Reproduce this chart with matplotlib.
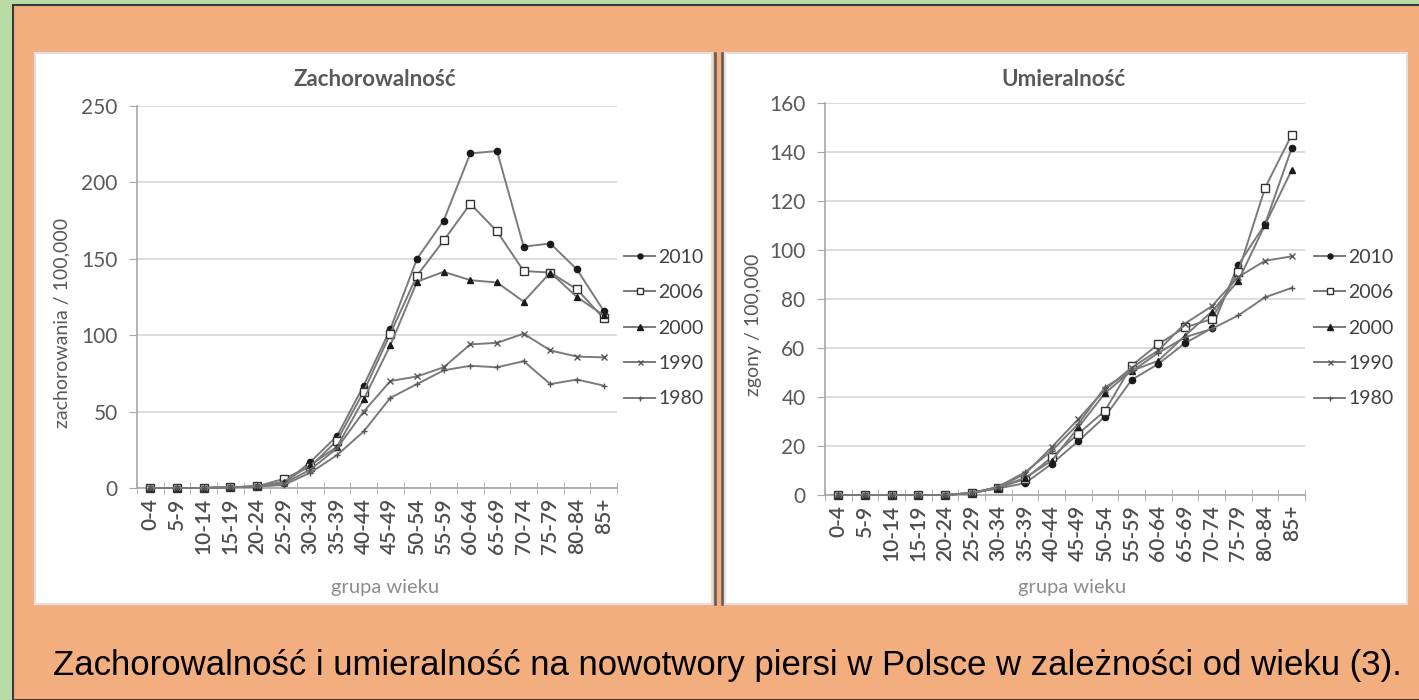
import matplotlib
matplotlib.use("Agg")
import matplotlib.pyplot as plt
from matplotlib.patches import Rectangle
from matplotlib.lines import Line2D

plt.rcParams['font.family'] = ['Lato', 'DejaVu Sans']

age_groups = ['0-4', '5-9', '10-14', '15-19', '20-24', '25-29', '30-34', '35-39', '40-44',
              '45-49', '50-54', '55-59', '60-64', '65-69', '70-74', '75-79', '80-84', '85+']
years = ['2010', '2006', '2000', '1990', '1980']

# zachorowalnosc / 100 000
inc_2010 = [0, 0, 0, 0.5, 1, 3, 17, 34, 67, 104, 150, 175, 219, 220.5, 158, 160, 143, 116]
inc_2006 = [0, 0, 0, 0.5, 1, 6, 14, 31, 63, 101, 139, 162, 186, 168, 142, 141, 130, 111]
inc_2000 = [0, 0, 0, 0.5, 1, 4, 15, 27, 58, 93.5, 135, 141.5, 136, 134.5, 122, 141, 125, 113]
inc_1990 = [0, 0, 0, 0.5, 1, 3, 12, 26, 50, 70, 73, 79, 94, 95, 101, 90, 86, 85.5]
inc_1980 = [0, 0, 0, 0.5, 1, 2, 10, 21.5, 37, 59, 68, 77, 80, 79, 83, 68, 71, 67]

# umieralnosc / 100 000
mort_2010 = [0, 0, 0, 0, 0, 0.8, 2.7, 4.8, 12.7, 22, 32, 47, 53.5, 62, 68, 94, 110.5, 141.5]
mort_2006 = [0, 0, 0, 0, 0, 0.8, 3, 6.5, 15.4, 25, 34.4, 52.8, 61.6, 68.4, 71.8, 91, 125.3, 147]
mort_2000 = [0, 0, 0, 0, 0, 0.8, 3, 7, 14, 27.6, 41.6, 50.7, 54.8, 65, 74.8, 87.5, 110.2, 132.6]
mort_1990 = [0, 0, 0, 0, 0, 0.8, 3.2, 8.6, 19.5, 31, 43, 52, 59, 70, 77, 89, 95.6, 97.4]
mort_1980 = [0, 0, 0, 0, 0, 0.8, 3.4, 9.3, 18, 29, 44, 50.5, 58, 64.4, 67.8, 73.3, 80.7, 84.5]

W, H = 1419, 700
GRAY_TXT = '#595959'
GRID = '#d9d9d9'
AX_LINE = '#a6a6a6'
LINE_COL = '#7a7a7a'
MARK_COL = '#1a1a1a'

markers = [
    dict(marker='o', markersize=4.5, markerfacecolor=MARK_COL, markeredgecolor=MARK_COL),
    dict(marker='s', markersize=5.5, markerfacecolor='white', markeredgecolor='#333333', markeredgewidth=1.0),
    dict(marker='^', markersize=5, markerfacecolor=MARK_COL, markeredgecolor=MARK_COL),
    dict(marker='x', markersize=4.5, markeredgecolor='#555555', markeredgewidth=1.0),
    dict(marker='+', markersize=4.5, markeredgecolor='#555555', markeredgewidth=1.0),
]


def px_rect(x0, y0, x1, y1):
    # pixel box (top-left origin) -> figure fraction [l, b, w, h]
    return [x0 / W, 1 - y1 / H, (x1 - x0) / W, (y1 - y0) / H]


def draw_chart(fig, box, series, ymax, ystep, title, title_xy, ylabel, ylabel_xy, xlabel_xy, legend_xy):
    ax = fig.add_axes(px_rect(*box))
    ax.set_facecolor('none')
    x = list(range(len(age_groups)))
    for vals, m in zip(series, markers):
        ax.plot(x, vals, color=LINE_COL, linewidth=1.4, zorder=3, clip_on=False, **m)

    ax.set_xlim(-0.5, len(age_groups) - 0.5)
    ax.set_ylim(0, ymax)
    ax.set_yticks(range(0, ymax + 1, ystep))
    ax.yaxis.grid(True, color=GRID, linewidth=1.3)
    ax.set_axisbelow(True)

    ax.set_xticks(x)
    ax.set_xticklabels(age_groups, rotation=90, fontsize=15, color='#4d4d4d', fontweight='semibold')
    ax.tick_params(axis='x', length=0, pad=7)
    ax.set_xticks([i - 0.5 for i in range(len(age_groups) + 1)], minor=True)
    ax.tick_params(axis='x', which='minor', length=8, direction='inout', color=AX_LINE)
    ax.tick_params(axis='y', length=6, direction='out', color=AX_LINE, labelsize=15,
                   labelcolor=GRAY_TXT, pad=8)

    for s in ['top', 'right']:
        ax.spines[s].set_visible(False)
    ax.spines['left'].set_color(AX_LINE)
    ax.spines['bottom'].set_color(AX_LINE)
    ax.spines['left'].set_linewidth(1.2)
    ax.spines['bottom'].set_linewidth(1.2)

    fig.text(title_xy[0] / W, 1 - title_xy[1] / H, title, ha='center', va='center',
             fontsize=16, fontweight='bold', color=GRAY_TXT)
    fig.text(ylabel_xy[0] / W, 1 - ylabel_xy[1] / H, ylabel, ha='center', va='center',
             rotation=90, fontsize=14, color=GRAY_TXT)
    fig.text(xlabel_xy[0] / W, 1 - xlabel_xy[1] / H, 'grupa wieku', ha='center', va='center',
             fontsize=14.5, color='#8c8c8c')

    handles = [Line2D([], [], color=LINE_COL, linewidth=1.4,
                      **dict(m, markersize=m['markersize'] * 0.8)) for m in markers]
    fig.legend(handles, years, loc='center left', frameon=False,
               bbox_to_anchor=(legend_xy[0] / W, 1 - legend_xy[1] / H),
               bbox_transform=fig.transFigure, fontsize=14, labelcolor='#404040',
               handlelength=1.6, handletextpad=0.15, labelspacing=0.95, borderpad=0,
               borderaxespad=0)
    return ax


fig = plt.figure(figsize=(W / 100, H / 100), dpi=100)
fig.patch.set_facecolor('#b9dba6')

# orange frame
fig.patches.append(Rectangle((13 / W, 0), 1, 1 - 5 / H, transform=fig.transFigure,
                             facecolor='#f3ae80', edgecolor='#3a3a3a', linewidth=1.5, zorder=-3))
# white panels
for x0, x1 in ((35, 712), (725, 1407)):
    fig.patches.append(Rectangle((x0 / W, 1 - 604 / H), (x1 - x0) / W, (604 - 53) / H,
                                 transform=fig.transFigure, facecolor='white', edgecolor='#e0e0e0',
                                 linewidth=1.5, zorder=-2))
# double separator
for xs in (715, 722):
    fig.add_artist(Line2D([xs / W, xs / W], [1 - 604 / H, 1 - 53 / H], transform=fig.transFigure,
                          color='#5a5a5a', linewidth=1.8, zorder=-1))

draw_chart(fig, (137, 106, 617, 488),
           [inc_2010, inc_2006, inc_2000, inc_1990, inc_1980], 250, 50,
           'Zachorowalność', (375, 80), 'zachorowania / 100,000', (62, 323),
           (385, 588), (624, 328))

draw_chart(fig, (825, 103, 1305, 495),
           [mort_2010, mort_2006, mort_2000, mort_1990, mort_1980], 160, 20,
           'Umieralność', (1063, 80), 'zgony / 100,000', (753, 325),
           (1072, 588), (1314, 328))

fig.text(727 / W, 1 - 665 / H,
         'Zachorowalność i umieralność na nowotwory piersi w Polsce w zależności od wieku (3).',
         ha='center', va='center', fontsize=25, color='black', family='Liberation Sans')

fig.savefig('out.png', dpi=100, facecolor=fig.get_facecolor())
